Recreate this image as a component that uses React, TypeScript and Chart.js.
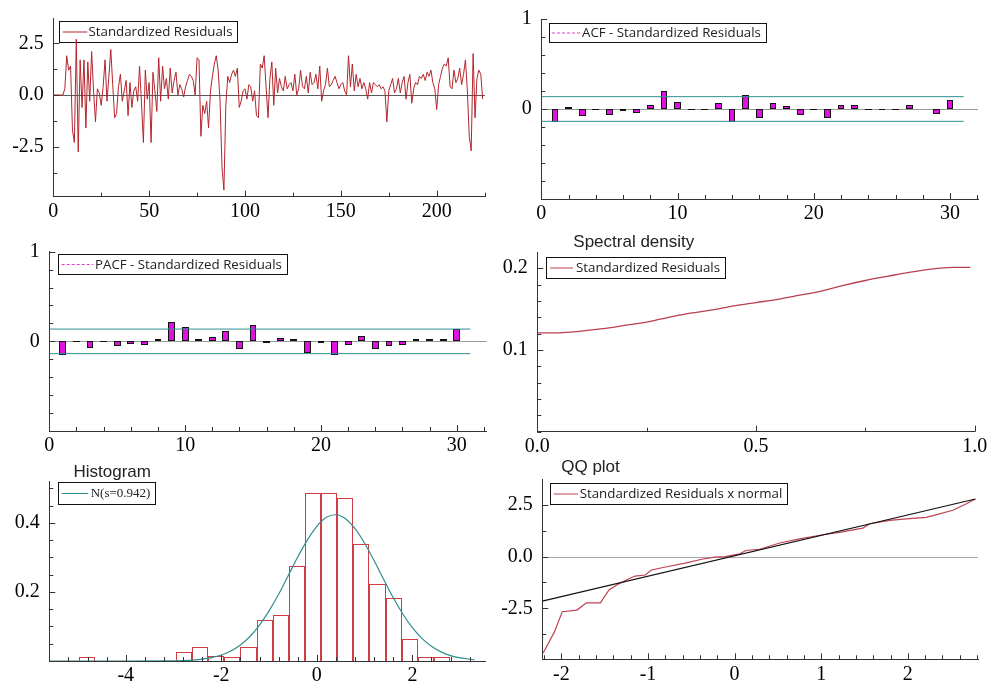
import React, { useEffect, useRef } from 'react';
import { Chart, registerables } from 'chart.js';

Chart.register(...registerables);

// ---------------- DATA ----------------
const residuals: number[] = [
  0, 0, 0, 0, 0, 0, 0.3, 1.9, 1.2, 1.4,
  -1.7, -2.3, 2.7, -2.75, 1.7, -0.6, 1.7, -1.6, 1.6, -0.3,
  2.1, 0.2, -1.3, 0.3, 0.1, -0.5, 0.4, 1.7, -0.3, 0.9,
  2.2, 0.5, -1.1, -0.9, 0.4, 1.0, -0.3, 0.2, 0.7, -1.0,
  0.6, -0.6, 0.2, 0.4, -0.3, 1.4, -0.4, -2.3, 1.2, -0.2,
  0.6, -2.3, 1.1, 0.2, -0.8, 1.8, -0.3, 1.4, 0.3, 0.8,
  -0.2, 1.3, 0.1, 0.7, 1.1, 0.0, 0.5, 0.3, -0.1, 0.4,
  0.7, 1.0, 0.9, 0.7, 0.0, 1.8, 1.7, -2.0, -0.5, -0.9,
  -0.3, -1.6, 0.2, 0.9, 1.5, 1.9, 1.2, -0.3, -3.5, -4.6,
  -0.5, 0.9, 0.6, 1.0, 1.2, 0.9, 1.3, -0.6, -0.3, 0.2,
  0.3, -0.2, 0.5, 0.4, -0.3, 0.2, -1.0, -1.1, 1.5, 1.3,
  1.9, 0.4, -1.1, 0.8, 1.6, -0.5, 1.3, 0.1, 0.8, 0.4,
  0.2, 0.9, 0.3, 0.5, 0.6, 0.2, 1.0, 0.0, 0.3, 1.2,
  0.4, 0.3, 0.9, 0.1, 1.1, 0.5, 0.6, 1.0, 0.3, 1.4,
  -0.3, 0.2, 0.5, 1.3, 0.4, 0.5, 0.7, 0.9, 0.6, 0.3,
  0.5, 0.6, 0.2, 0.0, 1.9, 0.4, 1.5, 0.2, 1.0, 0.4,
  0.8, 0.3, 0.6, 0.3, -0.2, 0.6, 0.1, 0.6, 0.5, 0.4,
  0.5, 0.3, 0.4, 0.2, -1.3, 0.2, 0.5, 0.8, 0.1, 0.3,
  0.8, 0.1, 0.6, 0.9, -0.2, 0.6, 1.0, -0.4, 0.3, 0.6,
  0.5, 0.9, 0.8, 1.0, 0.7, 1.1, 0.9, 1.2, 0.6, 0.3,
  -0.7, 0.5, 0.9, 1.3, 1.5, 1.4, 1.8, 0.4, 0.3, 1.2,
  0.6, 0.8, 1.3, 0.5, 1.0, 1.7, 0.2, -2.0, -2.7, 2.0,
  -1.1, 0.8, 1.2, 1.0, -0.2,
];

const lags: number[] = [1, 2, 3, 4, 5, 6, 7, 8, 9, 10, 11, 12, 13, 14, 15, 16, 17, 18, 19, 20, 21, 22, 23, 24, 25, 26, 27, 28, 29, 30];
const acfValues: number[] = [
  -0.14, 0.02, -0.08, -0.01, -0.065, -0.02, -0.04, 0.045, 0.205, 0.08,
  -0.015, -0.01, 0.07, -0.14, 0.16, -0.1, 0.07, 0.03, -0.065, -0.01,
  -0.1, 0.045, 0.045, -0.015, -0.015, -0.01, 0.04, -0.005, -0.06, 0.1,
];
const pacfValues: number[] = [
  -0.15, -0.005, -0.075, -0.005, -0.055, -0.03, -0.045, 0.025, 0.22, 0.155,
  0.025, 0.05, 0.12, -0.08, 0.18, -0.015, 0.035, 0.025, -0.125, -0.015,
  -0.15, -0.045, 0.065, -0.08, -0.055, -0.045, 0.025, 0.025, 0.025, 0.14,
];
const confBand = 0.137;
const confSpan: number[] = [0, 31];

const specFreq: number[] = [0, 0.05, 0.1, 0.15, 0.2, 0.25, 0.3, 0.35, 0.4, 0.45, 0.5, 0.55, 0.6, 0.65, 0.7, 0.75, 0.8, 0.85, 0.9, 0.95, 0.99];
const specDensity: number[] = [0.121, 0.121, 0.123, 0.126, 0.13, 0.134, 0.14, 0.145, 0.149, 0.154, 0.158, 0.162, 0.167, 0.172, 0.179, 0.185, 0.19, 0.195, 0.199, 0.201, 0.201];

const histCenters: number[] = [-4.806, -4.469, -4.131, -3.794, -3.456, -3.119, -2.781, -2.444, -2.106, -1.769, -1.431, -1.094, -0.756, -0.419, -0.081, 0.256, 0.594, 0.931, 1.269, 1.606, 1.944, 2.281, 2.619];
const histDensity: (number | null)[] = [0.0125, null, null, null, null, null, 0.026, 0.04, 0.014, 0.0125, 0.04, 0.118, 0.132, 0.275, 0.485, 0.485, 0.472, 0.338, 0.222, 0.183, 0.064, 0.0125, 0.0125];

const normX: number[] = [-5.6, -4.0, -3.2, -2.8, -2.6, -2.4, -2.2, -2.0, -1.8, -1.6, -1.4, -1.2, -1.0, -0.8, -0.6, -0.4, -0.2, 0.0, 0.2, 0.4, 0.6, 0.8, 1.0, 1.2, 1.4, 1.6, 1.8, 2.0, 2.2, 2.4, 2.6, 2.8, 3.0, 3.3];
const normY: number[] = [0, 0, 0.0004, 0.0014, 0.0028, 0.0054, 0.01, 0.0174, 0.0291, 0.0465, 0.071, 0.104, 0.145, 0.193, 0.247, 0.301, 0.35, 0.39, 0.416, 0.4234, 0.412, 0.383, 0.341, 0.29, 0.236, 0.183, 0.136, 0.0965, 0.0655, 0.0425, 0.0264, 0.0156, 0.0088, 0.0035];

const qqTheoretical: number[] = [-2.21, -2.08, -1.99, -1.82, -1.71, -1.55, -1.45, -1.36, -1.25, -1.15, -1.03, -0.96, -0.77, -0.57, -0.38, -0.23, -0.11, 0.06, 0.13, 0.29, 0.52, 0.75, 1.02, 1.21, 1.48, 1.56, 1.79, 1.98, 2.21, 2.29, 2.52, 2.67, 2.78];
const qqSample: number[] = [-4.65, -3.63, -2.66, -2.58, -2.23, -2.23, -1.61, -1.37, -1.13, -0.94, -0.89, -0.65, -0.48, -0.32, -0.13, -0.03, 0.0, 0.13, 0.29, 0.35, 0.65, 0.85, 1.05, 1.16, 1.37, 1.58, 1.74, 1.81, 1.89, 1.97, 2.23, 2.53, 2.77];
const qqLineX: number[] = [-2.22, 2.78];
const qqLineY: number[] = [-2.15, 2.77];

// tick labels
const resXLabels = [0, 50, 100, 150, 200];
const resYLabels = [-2.5, 0, 2.5];
const corrXLabels = [0, 10, 20, 30];
const corrYLabels = [0, 1];
const specXLabels = [0, 0.5, 1];
const specYLabels = [0.1, 0.2];
const histXLabels = [-4, -2, 0, 2];
const histYLabels = [0.2, 0.4];
const qqXLabels = [-2, -1, 0, 1, 2];
const qqYLabels = [-2.5, 0, 2.5];

// ---------------- STYLE ----------------
const SERIF = "'Liberation Serif', 'Times New Roman', serif";
const SANS = "'Liberation Sans', Arial, sans-serif";
const LEGFONT = "13.3px 'Open Sans', 'DejaVu Sans', sans-serif";
const RED = '#b3262d';
const MAGENTA = '#e010e0';
const TEAL = '#2f8f90';
const AXIS = '#333';

function steps(from: number, to: number, step: number): number[] {
  const out: number[] = [];
  const n = Math.round((to - from) / step);
  for (let i = 0; i <= n; i++) out.push(+(from + i * step).toFixed(6));
  return out;
}

interface Box { x: number; y: number; w: number; h: number }
interface Area { l: number; t: number; r: number; b: number }
interface LegendSpec { x: number; y: number; h: number; sx0: number; sx1: number; tx: number; color: string; dash?: number[]; text: string; font: string }
interface TitleSpec { x: number; y: number; text: string }

const isIn = (arr: number[], v: number) => arr.some((a) => Math.abs(a - v) < 1e-6);

function makeScale(axis: 'x' | 'y', min: number, max: number, minor: number[], labels: number[], fmt: (v: number) => string, size: number) {
  return {
    type: 'linear',
    min,
    max,
    offset: false,
    grid: { display: false, drawTicks: false, tickLength: 0, offset: false },
    border: { display: true, color: AXIS, width: 1 },
    afterBuildTicks: (s: any) => {
      s.ticks = minor.map((v) => ({ value: v }));
    },
    afterFit: (s: any) => {
      if (axis === 'x') s.height = size;
      else s.width = size;
      s.paddingLeft = 0;
      s.paddingRight = 0;
      s.paddingTop = 0;
      s.paddingBottom = 0;
    },
    ticks: {
      autoSkip: false,
      maxRotation: 0,
      minRotation: 0,
      padding: axis === 'x' ? 3 : 9.5,
      color: '#000',
      font: { family: SERIF, size: 20 },
      callback: (v: number) => {
        const m = labels.find((l) => Math.abs(l - v) < 1e-6);
        return m === undefined ? '' : fmt(m);
      },
    },
  };
}

// snap bar elements computed by Chart.js to whole pixels so their 1px borders stay crisp
const snapBars = {
  id: 'snapBars',
  afterDatasetsUpdate(chart: any) {
    chart.data.datasets.forEach((_ds: any, i: number) => {
      const meta = chart.getDatasetMeta(i);
      if (meta.type !== 'bar') return;
      meta.data.forEach((el: any) => {
        if (el.width == null || isNaN(el.x)) return;
        const left = Math.round(el.x - el.width / 2);
        const right = Math.round(el.x + el.width / 2);
        el.width = right - left;
        el.x = left + el.width / 2;
        if (!isNaN(el.y)) el.y = Math.round(el.y);
        if (!isNaN(el.base)) el.base = Math.round(el.base);
      });
    });
  },
};

function decoPlugin(box: Box, xMinor: number[], xLabels: number[], yMinor: number[], yLabels: number[], zero: string | null, legend: LegendSpec | null, title: TitleSpec | null) {
  return {
    id: 'deco',
    beforeDatasetsDraw(chart: any) {
      const ctx = chart.ctx;
      const a = chart.chartArea;
      ctx.save();
      if (zero) {
        const y0 = Math.round(chart.scales.y.getPixelForValue(0)) + 0.5;
        ctx.strokeStyle = zero;
        ctx.lineWidth = 1;
        ctx.beginPath();
        ctx.moveTo(a.left, y0);
        ctx.lineTo(a.right, y0);
        ctx.stroke();
      }
      if (legend) {
        ctx.font = legend.font;
        const tw = ctx.measureText(legend.text).width;
        const bx = Math.round(legend.x - box.x) + 0.5;
        const by = Math.round(legend.y - box.y) + 0.5;
        const bw = Math.round(legend.tx + tw + 5 - legend.x);
        const bh = Math.round(legend.h);
        ctx.fillStyle = '#fff';
        ctx.fillRect(bx, by, bw, bh);
        ctx.strokeStyle = '#111';
        ctx.lineWidth = 1;
        ctx.strokeRect(bx, by, bw, bh);
        const my = by + bh / 2;
        ctx.beginPath();
        ctx.setLineDash(legend.dash || []);
        ctx.strokeStyle = legend.color;
        ctx.moveTo(legend.sx0 - box.x, my);
        ctx.lineTo(legend.sx1 - box.x, my);
        ctx.stroke();
        ctx.setLineDash([]);
        ctx.fillStyle = '#222';
        ctx.textAlign = 'left';
        ctx.textBaseline = 'middle';
        ctx.fillText(legend.text, legend.tx - box.x, my + 0.5);
      }
      ctx.restore();
    },
    afterDraw(chart: any) {
      const ctx = chart.ctx;
      const a = chart.chartArea;
      const xs = chart.scales.x;
      const ys = chart.scales.y;
      ctx.save();
      ctx.strokeStyle = AXIS;
      ctx.lineWidth = 1;
      ctx.beginPath();
      xMinor.forEach((v) => {
        const px = Math.round(xs.getPixelForValue(v)) + 0.5;
        const len = isIn(xLabels, v) ? 6 : 4;
        ctx.moveTo(px, a.bottom);
        ctx.lineTo(px, a.bottom - len);
      });
      yMinor.forEach((v) => {
        const py = Math.round(ys.getPixelForValue(v)) + 0.5;
        const len = isIn(yLabels, v) ? 6 : 4;
        ctx.moveTo(a.left, py);
        ctx.lineTo(a.left + len, py);
      });
      ctx.stroke();
      if (title) {
        ctx.font = `17px ${SANS}`;
        ctx.fillStyle = '#222';
        ctx.textAlign = 'center';
        ctx.textBaseline = 'middle';
        ctx.fillText(title.text, title.x - box.x, title.y - box.y);
      }
      ctx.restore();
    },
  };
}

function baseOptions(box: Box, area: Area, xScale: any, yScale: any) {
  return {
    responsive: false,
    maintainAspectRatio: false,
    animation: false,
    devicePixelRatio: 1,
    events: [],
    layout: { padding: { top: area.t - box.y, right: box.x + box.w - area.r, left: 0, bottom: 0 } },
    plugins: { legend: { display: false }, tooltip: { enabled: false }, title: { display: false } },
    scales: { x: xScale, y: yScale },
  };
}

interface PanelDef { box: Box; build: () => any }

function buildPanels(): PanelDef[] {
  const panels: PanelDef[] = [];

  // 1. Standardized residuals
  {
    const box = { x: 0, y: 0, w: 493, h: 230 };
    const area = { l: 53.3, t: 18.3, r: 485, b: 196.7 };
    const xm = steps(0, 225, 25);
    const ym = steps(-3.75, 2.5, 1.25);
    panels.push({
      box,
      build: () => ({
        type: 'scatter',
        data: {
          datasets: [{
            data: residuals.map((v, i) => ({ x: i, y: v })),
            showLine: true, borderColor: RED, borderWidth: 1, pointRadius: 0, tension: 0,
          }],
        },
        options: baseOptions(box, area,
          makeScale('x', 0, 225.2, xm, resXLabels, (v) => String(v), box.y + box.h - area.b),
          makeScale('y', -4.92, 3.71, ym, resYLabels, (v) => v.toFixed(1), area.l - box.x)),
        plugins: [decoPlugin(box, xm, resXLabels, ym, resYLabels, '#5a5a5a',
          { x: 59.3, y: 20.7, h: 21, sx0: 62.7, sx1: 87.3, tx: 88.5, color: RED, text: 'Standardized Residuals', font: LEGFONT }, null)],
      }),
    });
  }

  // 2. ACF and 3. PACF
  const corrPanel = (box: Box, area: Area, xmax: number, values: number[], legend: LegendSpec) => {
    const xm = steps(0, 32, 2);
    const ym = steps(-1, 1, 0.2);
    return {
      box,
      build: () => ({
        type: 'bar',
        data: {
          datasets: [
            {
              type: 'bar', order: 1,
              data: lags.map((l, i) => ({ x: l, y: values[i] })),
              backgroundColor: MAGENTA, borderColor: '#111', borderWidth: 1, borderSkipped: false,
              inflateAmount: 0,
              barPercentage: 0.5, categoryPercentage: 1,
            },
            {
              type: 'line', order: 0,
              data: confSpan.map((x) => ({ x, y: confBand })),
              borderColor: TEAL, borderWidth: 1, pointRadius: 0,
            },
            {
              type: 'line', order: 0,
              data: confSpan.map((x) => ({ x, y: -confBand })),
              borderColor: TEAL, borderWidth: 1, pointRadius: 0,
            },
          ],
        },
        options: baseOptions(box, area,
          makeScale('x', 0, xmax, xm, corrXLabels, (v) => String(v), box.y + box.h - area.b),
          makeScale('y', -1, 1, ym, corrYLabels, (v) => String(v), area.l - box.x)),
        plugins: [snapBars, decoPlugin(box, xm, corrXLabels, ym, corrYLabels, '#9a9a9a', legend, null)],
      }),
    };
  };
  panels.push(corrPanel({ x: 493, y: 0, w: 494, h: 230 }, { l: 541.3, t: 19, r: 978, b: 199 }, 32.05, acfValues,
    { x: 549, y: 23.3, h: 19, sx0: 552, sx1: 580, tx: 582, color: '#e040c8', dash: [3, 2], text: 'ACF - Standardized Residuals', font: LEGFONT }));
  panels.push(corrPanel({ x: 0, y: 230, w: 493, h: 230 }, { l: 49.3, t: 251.7, r: 486.7, b: 431 }, 32.2, pacfValues,
    { x: 58.3, y: 254.3, h: 20, sx0: 61.7, sx1: 93.3, tx: 95, color: '#e040c8', dash: [3, 2], text: 'PACF - Standardized Residuals', font: LEGFONT }));

  // 4. Spectral density
  {
    const box = { x: 493, y: 230, w: 494, h: 230 };
    const area = { l: 537.3, t: 252.7, r: 974.7, b: 431.7 };
    const xm = steps(0, 1, 0.25);
    const ym = steps(0, 0.2, 0.02);
    panels.push({
      box,
      build: () => ({
        type: 'scatter',
        data: {
          datasets: [{
            data: specFreq.map((f, i) => ({ x: f, y: specDensity[i] })),
            showLine: true, borderColor: '#b8404c', borderWidth: 1.3, pointRadius: 0, cubicInterpolationMode: 'monotone',
          }],
        },
        options: baseOptions(box, area,
          makeScale('x', 0, 1, xm, specXLabels, (v) => v.toFixed(1), box.y + box.h - area.b),
          makeScale('y', 0, 0.219, ym, specYLabels, (v) => v.toFixed(1), area.l - box.x)),
        plugins: [decoPlugin(box, xm, specXLabels, ym, specYLabels, null,
          { x: 545.7, y: 256.7, h: 21, sx0: 550, sx1: 573, tx: 576, color: '#b8404c', text: 'Standardized Residuals', font: LEGFONT },
          { x: 633.8, y: 242.5, text: 'Spectral density' })],
      }),
    });
  }

  // 5. Histogram
  {
    const box = { x: 0, y: 460, w: 493, h: 227 };
    const area = { l: 49.3, t: 481.7, r: 485, b: 661 };
    const xm = steps(-5.6, 3.2, 0.4);
    const ym = steps(0, 0.5, 0.05);
    panels.push({
      box,
      build: () => ({
        type: 'bar',
        data: {
          datasets: [
            {
              type: 'bar', order: 1,
              data: histCenters.map((c, i) => ({ x: c, y: histDensity[i] })),
              backgroundColor: 'rgba(255,255,255,0)', borderColor: '#cf3c44', borderWidth: 1, borderSkipped: 'start',
              inflateAmount: 0,
              barPercentage: 1, categoryPercentage: 1,
            },
            {
              type: 'line', order: 0,
              data: normX.map((x, i) => ({ x, y: normY[i] })),
              borderColor: TEAL, borderWidth: 1.2, pointRadius: 0, cubicInterpolationMode: 'monotone',
            },
          ],
        },
        options: baseOptions(box, area,
          makeScale('x', -5.6, 3.52, xm, histXLabels, (v) => String(v), box.y + box.h - area.b),
          makeScale('y', 0, 0.519, ym, histYLabels, (v) => v.toFixed(1), area.l - box.x)),
        plugins: [snapBars, decoPlugin(box, xm, histXLabels, ym, histYLabels, null,
          { x: 58.3, y: 481.7, h: 21.6, sx0: 61.7, sx1: 88.3, tx: 90.7, color: TEAL, text: 'N(s=0.942)', font: `13px ${SERIF}` },
          { x: 112.2, y: 472, text: 'Histogram' })],
      }),
    });
  }

  // 6. QQ plot
  {
    const box = { x: 493, y: 460, w: 494, h: 227 };
    const area = { l: 542.3, t: 479.3, r: 978, b: 659.3 };
    const xm = steps(-2.2, 2.8, 0.2);
    const ym = steps(-3.75, 2.5, 1.25);
    panels.push({
      box,
      build: () => ({
        type: 'scatter',
        data: {
          datasets: [
            {
              order: 1,
              data: qqTheoretical.map((x, i) => ({ x, y: qqSample[i] })),
              showLine: true, borderColor: '#c04050', borderWidth: 1.2, pointRadius: 0,
            },
            {
              order: 0,
              data: qqLineX.map((x, i) => ({ x, y: qqLineY[i] })),
              showLine: true, borderColor: '#111', borderWidth: 1.2, pointRadius: 0,
            },
          ],
        },
        options: baseOptions(box, area,
          makeScale('x', -2.22, 2.81, xm, qqXLabels, (v) => String(v), box.y + box.h - area.b),
          makeScale('y', -4.95, 3.72, ym, qqYLabels, (v) => v.toFixed(1), area.l - box.x)),
        plugins: [decoPlugin(box, xm, qqXLabels, ym, qqYLabels, '#a8a8a8',
          { x: 550.3, y: 482.7, h: 20.6, sx0: 553.7, sx1: 578, tx: 579.7, color: '#c04050', text: 'Standardized Residuals x normal', font: LEGFONT },
          { x: 590.5, y: 467, text: 'QQ plot' })],
      }),
    });
  }

  return panels;
}

function Panel({ def }: { def: PanelDef }) {
  const ref = useRef<HTMLCanvasElement>(null);
  useEffect(() => {
    if (!ref.current) return;
    const chart = new Chart(ref.current, def.build());
    return () => chart.destroy();
  }, [def]);
  const { x, y, w, h } = def.box;
  return (
    <canvas
      ref={ref}
      width={w}
      height={h}
      style={{ position: 'absolute', left: x, top: y, width: w, height: h, display: 'block' }}
    />
  );
}

const PANELS = buildPanels();

export default function App() {
  return (
    <div style={{ position: 'fixed', left: 0, top: 0, width: 987, height: 687, background: '#fff', overflow: 'hidden' }}>
      {PANELS.map((p, i) => (
        <Panel key={i} def={p} />
      ))}
    </div>
  );
}
